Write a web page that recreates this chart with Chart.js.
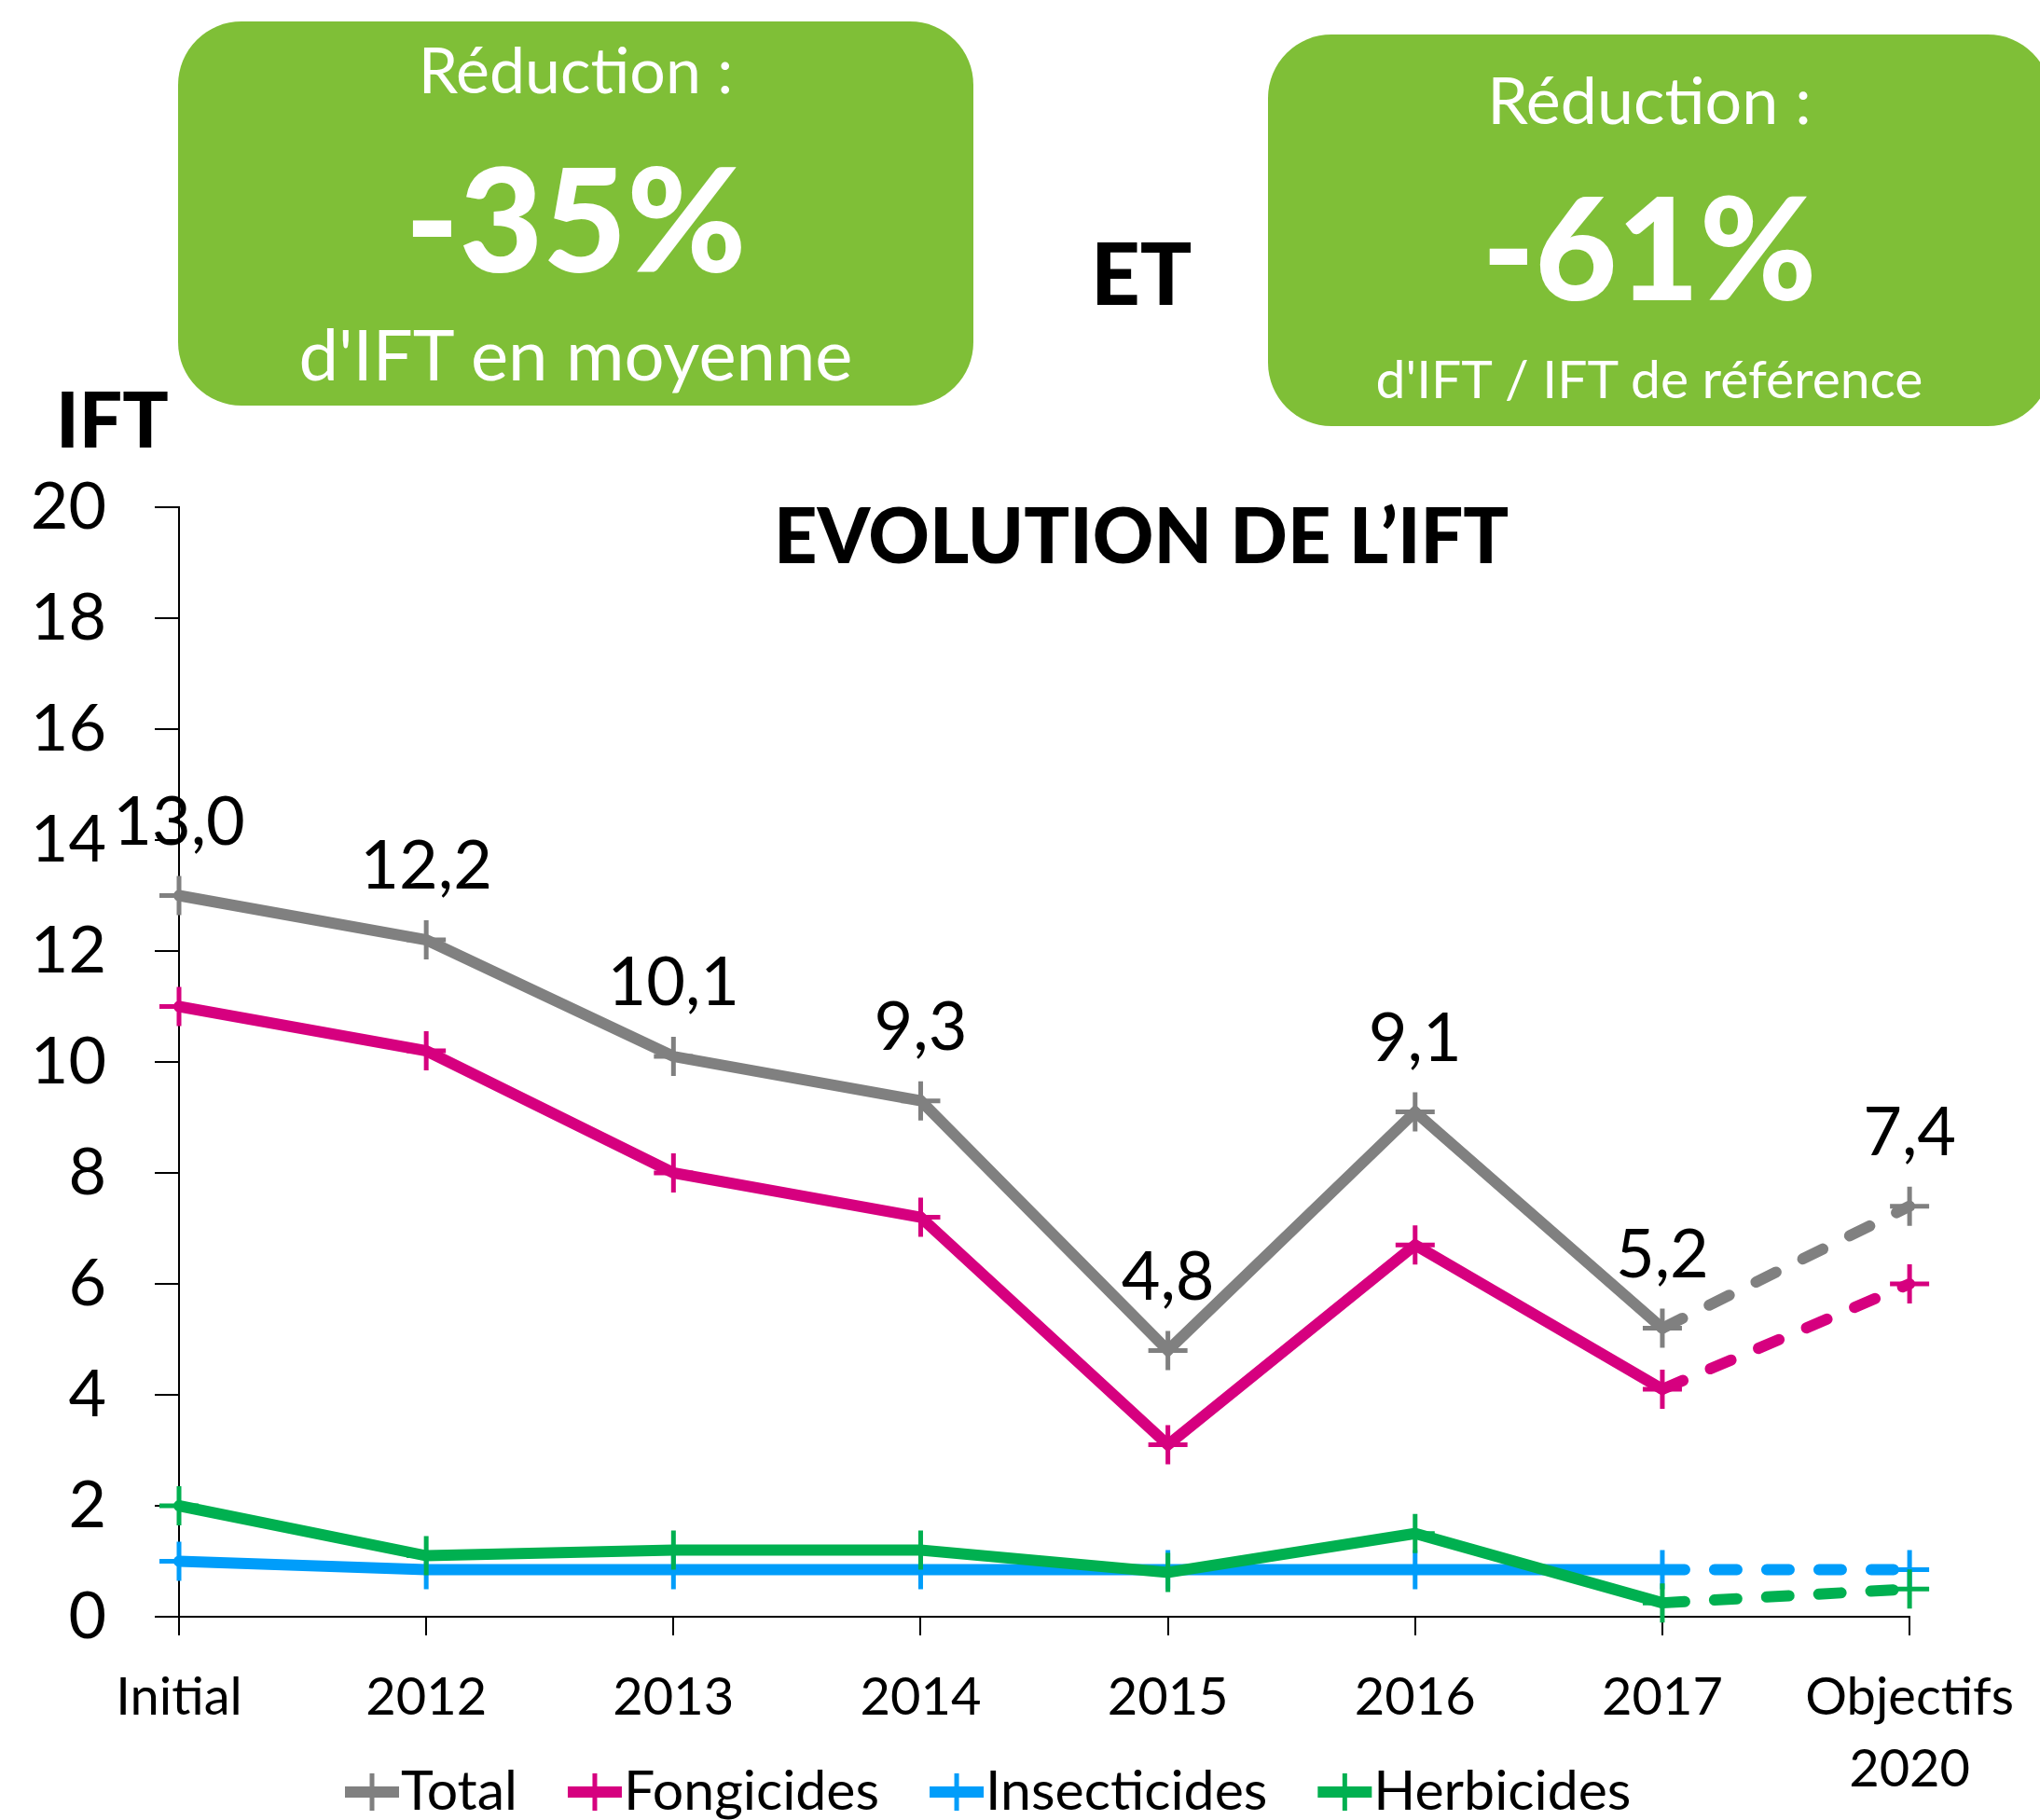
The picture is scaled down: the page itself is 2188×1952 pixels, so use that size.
<!DOCTYPE html>
<html lang="fr">
<head>
<meta charset="utf-8">
<title>Evolution de l'IFT</title>
<script src="https://cdn.jsdelivr.net/npm/chart.js@4/dist/chart.umd.min.js"></script>
<style>
  html, body { margin: 0; padding: 0; background: #fff; }
  #wrap { position: relative; width: 2188px; height: 1952px; overflow: hidden; font-family: Lato, "Open Sans", sans-serif; }
  #ift-chart { position: absolute; left: 0; top: 0; }
  .box { position: absolute; background: #7fbf37; border-radius: 68px; color: #fff; }
  .box div { position: absolute; left: 0; right: 0; text-align: center; line-height: 1; }
  .lbl { position: absolute; color: #000; font-weight: 900; line-height: 1; }
</style>
</head>
<body>
<div id="wrap">
  <canvas id="ift-chart" width="2188" height="1952"></canvas>

  <div class="box" style="left:191px; top:23px; width:853px; height:412px;">
    <div style="top:17px; font-size:68px;">Réduction :</div>
    <div style="top:132px; font-size:155px; font-weight:900;">-35%</div>
    <div style="top:318px; font-size:76px;">d'IFT en moyenne</div>
  </div>
  <div class="lbl" style="left:1170px; top:246px; font-size:92px;">ET</div>
  <div class="box" style="left:1360px; top:37px; width:840px; height:420px;">
    <div style="top:34px; font-size:70px; padding-right:22px;">Réduction :</div>
    <div style="top:150px; font-size:152px; font-weight:900; padding-right:22px;">-61%</div>
    <div style="top:340px; font-size:57px; padding-right:22px;">d'IFT / IFT de référence</div>
  </div>

  <div class="lbl" style="left:60px; top:407px; font-size:82px;">IFT</div>
  <div class="lbl" style="left:830px; top:532px; font-size:81px;">EVOLUTION DE L’IFT</div>
</div>

<script>
// categories and series
const categories = [['Initial'], ['2012'], ['2013'], ['2014'], ['2015'], ['2016'], ['2017'], ['Objectifs', '2020']];
const total = [13.0, 12.2, 10.1, 9.3, 4.8, 9.1, 5.2, 7.4];
const fongicides = [11.0, 10.2, 8.0, 7.2, 3.1, 6.7, 4.1, 6.0];
const insecticides = [1.0, 0.85, 0.85, 0.85, 0.85, 0.85, 0.85, 0.85];
const herbicides = [2.0, 1.1, 1.2, 1.2, 0.8, 1.5, 0.25, 0.5];
const yTicks = [0, 2, 4, 6, 8, 10, 12, 14, 16, 18, 20];

const FONT = 'Lato, "Open Sans", sans-serif';

// the last segment (2017 -> objectifs) is a target, drawn dashed
function makeSet(label, data, color, order) {
    return {
        label: label,
        data: data,
        borderColor: color,
        backgroundColor: color,
        borderWidth: 12,
        borderCapStyle: 'round',
        pointStyle: 'cross',
        pointRadius: 21,
        pointHoverRadius: 21,
        pointBorderWidth: 5,
        pointBorderColor: color,
        tension: 0,
        clip: false,
        order: order,
        segment: {
            borderDash: c => c.p1DataIndex === categories.length - 1 ? [24, 32] : undefined
        }
    };
}

// value labels over the Total line, with a French decimal comma
const totalLabels = {
    id: 'totalLabels',
    afterDatasetsDraw(chart) {
        const ctx = chart.ctx;
        const meta = chart.getDatasetMeta(0);
        ctx.save();
        ctx.font = '72px ' + FONT;
        ctx.fillStyle = '#000';
        ctx.textAlign = 'center';
        ctx.textBaseline = 'middle';
        meta.data.forEach((pt, i) => {
            let txt = total[i].toFixed(1).replace('.', ',');
            ctx.fillText(txt, pt.x, pt.y - 78);
        });
        ctx.restore();
    }
};

// Excel-like legend: short line with a cross marker, then the name
const lineLegend = {
    id: 'lineLegend',
    afterDraw(chart) {
        const ctx = chart.ctx;
        let x = 370;
        const y = 1922;
        ctx.save();
        ctx.font = '59px ' + FONT;
        ctx.textBaseline = 'middle';
        chart.data.datasets.forEach(ds => {
            ctx.strokeStyle = ds.borderColor;
            ctx.lineWidth = 12;
            ctx.lineCap = 'butt';
            ctx.beginPath();
            ctx.moveTo(x, y);
            ctx.lineTo(x + 58, y);
            ctx.stroke();
            ctx.lineWidth = 5;
            ctx.beginPath();
            ctx.moveTo(x + 29, y - 20);
            ctx.lineTo(x + 29, y + 20);
            ctx.moveTo(x + 9, y);
            ctx.lineTo(x + 49, y);
            ctx.stroke();
            ctx.fillStyle = '#000';
            ctx.fillText(ds.label, x + 60, y);
            x += 60 + ctx.measureText(ds.label).width + 54;
        });
        ctx.restore();
    }
};

let ctx = document.getElementById('ift-chart').getContext('2d');
let iftChart = new Chart(ctx, {
    type: 'line',
    data: {
        labels: categories,
        datasets: [
            makeSet('Total', total, '#808080', 0),
            makeSet('Fongicides', fongicides, '#d6007f', 1),
            makeSet('Insecticides', insecticides, '#009dfa', 3),
            makeSet('Herbicides', herbicides, '#00b050', 2)
        ]
    },
    options: {
        responsive: false,
        animation: false,
        events: [],
        layout: { padding: { left: 0, right: 137, top: 544, bottom: 0 } },
        plugins: {
            legend: { display: false },
            tooltip: { enabled: false }
        },
        scales: {
            x: {
                offset: false,
                afterFit: s => { s.height = 218; },
                grid: { drawOnChartArea: false, tickLength: 20, color: '#000', lineWidth: 2 },
                border: { color: '#000', width: 2 },
                ticks: {
                    color: '#000',
                    autoSkip: false,
                    maxRotation: 0,
                    padding: 28,
                    font: { family: FONT, size: 56, lineHeight: 1.38 }
                }
            },
            y: {
                min: 0,
                max: 20,
                afterFit: s => { s.width = 192; },
                afterBuildTicks: s => { s.ticks = yTicks.map(v => ({ value: v })); },
                grid: { drawOnChartArea: false, tickLength: 26, color: '#000', lineWidth: 2 },
                border: { color: '#000', width: 2 },
                ticks: {
                    color: '#000',
                    padding: 52,
                    font: { family: FONT, size: 70 }
                }
            }
        }
    },
    plugins: [totalLabels, lineLegend]
});
</script>
</body>
</html>
